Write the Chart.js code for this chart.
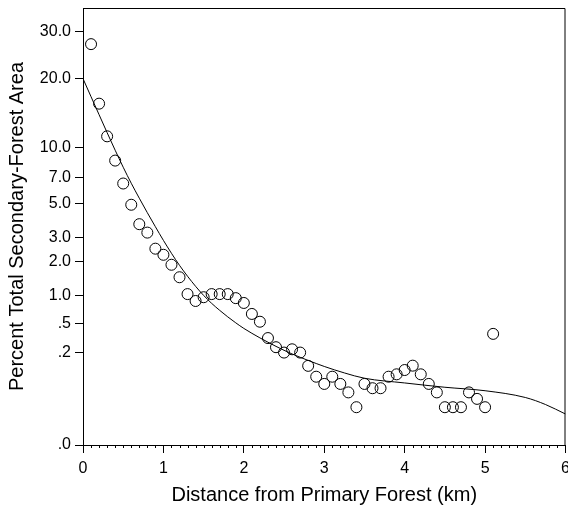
<!DOCTYPE html>
<html>
<head>
<meta charset="utf-8">
<script src="https://cdn.jsdelivr.net/npm/chart.js@4"></script>
<style>
    html, body { margin: 0; padding: 0; background: #fff; overflow: hidden; }
    #wrap { width: 568px; height: 507px; overflow: hidden; }
</style>
</head>
<body>
<div id="wrap"><canvas id="myChart" width="572" height="507"></canvas></div>
<script>
// observed points (km, percent)
const distanceKm = [0.1, 0.2, 0.3, 0.4, 0.5, 0.6, 0.7, 0.8, 0.9, 1.0,
    1.1, 1.2, 1.3, 1.4, 1.5, 1.6, 1.7, 1.8, 1.9, 2.0,
    2.1, 2.2, 2.3, 2.4, 2.5, 2.6, 2.7, 2.8, 2.9, 3.0,
    3.1, 3.2, 3.3, 3.4, 3.5, 3.6, 3.7, 3.8, 3.9, 4.0,
    4.1, 4.2, 4.3, 4.4, 4.5, 4.6, 4.7, 4.8, 4.9, 5.0, 5.1];
const percentArea = [27, 15.8, 11.3, 8.6, 6.5, 4.9, 3.7, 3.25, 2.5, 2.25,
    1.88, 1.48, 1.04, 0.89, 0.97, 1.04, 1.04, 1.04, 0.95, 0.85,
    0.65, 0.53, 0.33, 0.245, 0.203, 0.228, 0.203, 0.121, 0.074, 0.051,
    0.074, 0.051, 0.031, 0.0103, 0.051, 0.040, 0.040, 0.074, 0.083, 0.101,
    0.122, 0.083, 0.051, 0.031, 0.0103, 0.0103, 0.0103, 0.031, 0.020, 0.0103, 0.375];

// fitted curve
const curveKm = [0, 0.1, 0.2, 0.3, 0.4, 0.5, 0.6, 0.7, 0.8, 0.9, 1.0, 1.1, 1.2, 1.3, 1.4, 1.5,
    1.6, 1.7, 1.8, 1.9, 2.0, 2.2, 2.4, 2.6, 2.8, 3.0, 3.25, 3.5, 4.0, 4.5, 5.0, 5.5, 5.75, 6.0];
const curveArea = [20.0, 16.9, 14.16, 11.75, 9.69, 7.95, 6.52, 5.36, 4.38, 3.56, 2.87, 2.31, 1.86, 1.51, 1.23, 1.01,
    0.842, 0.711, 0.603, 0.514, 0.440, 0.332, 0.252, 0.193, 0.151, 0.118, 0.0886, 0.0686, 0.0538, 0.0423, 0.0344, 0.0221, 0.0130, 0.0053];

const yTickValues = [0, 0.2, 0.5, 1, 2, 3, 5, 7, 10, 20, 30];
const yTickLabels = ['.0', '.2', '.5', '1.0', '2.0', '3.0', '5.0', '7.0', '10.0', '20.0', '30.0'];
const xTickLabels = ['0', '1', '2', '3', '4', '5', '6'];

const EXP = 0.3;

// power scale: y^0.3
class PowerScale extends Chart.LinearScale {
    getPixelForValue(value) {
        if (value === null || value === undefined || isNaN(value)) return NaN;
        const a = Math.pow(Math.max(this.min, 0), EXP);
        const b = Math.pow(this.max, EXP);
        const p = Math.pow(Math.max(value, 0), EXP);
        return this.getPixelForDecimal((p - a) / (b - a));
    }
    getValueForPixel(pixel) {
        const a = Math.pow(Math.max(this.min, 0), EXP);
        const b = Math.pow(this.max, EXP);
        const d = this.getDecimalForPixel(pixel);
        return Math.pow(a + d * (b - a), 1 / EXP);
    }
}
PowerScale.id = 'power';
PowerScale.defaults = Chart.LinearScale.defaults;
Chart.register(PowerScale);

const FONT = "'Liberation Sans', Arial, sans-serif";

// box around plot + small minor ticks on x axis
const framePlugin = {
    id: 'frame',
    afterDraw(chart) {
        const ctx = chart.ctx;
        const a = chart.chartArea;
        const xs = chart.scales.x;
        ctx.save();
        ctx.strokeStyle = '#000';
        ctx.lineWidth = 1;
        ctx.beginPath();
        ctx.moveTo(a.left, a.top + 0.5);
        ctx.lineTo(a.right - 0.5, a.top + 0.5);
        ctx.lineTo(a.right - 0.5, a.bottom);
        ctx.stroke();
        ctx.beginPath();
        for (let i = 1; i < 60; i++) {
            if (i % 10 === 0) continue;
            const px = Math.round(xs.getPixelForValue(i / 10)) + 0.5;
            ctx.moveTo(px, a.bottom);
            ctx.lineTo(px, a.bottom + 3);
        }
        ctx.stroke();
        ctx.restore();
    }
};

const ctx = document.getElementById('myChart').getContext('2d');

new Chart(ctx, {
    type: 'scatter',
    data: {
        datasets: [{
            label: 'Fit',
            type: 'line',
            data: curveKm.map((x, i) => ({ x: x, y: curveArea[i] })),
            borderColor: '#000',
            borderWidth: 1,
            pointRadius: 0,
            pointHoverRadius: 0,
            fill: false,
            cubicInterpolationMode: 'monotone'
        }, {
            label: 'Observed',
            data: distanceKm.map((x, i) => ({ x: x, y: percentArea[i] })),
            pointRadius: 5.5,
            pointBorderWidth: 1,
            pointBorderColor: '#000',
            pointBackgroundColor: 'rgba(0,0,0,0)',
            borderColor: '#000',
            backgroundColor: 'rgba(0,0,0,0)'
        }]
    },
    options: {
        responsive: false,
        animation: false,
        layout: { padding: { top: 8, right: 0, left: 0, bottom: 0 } },
        plugins: {
            legend: { display: false },
            tooltip: { enabled: false }
        },
        scales: {
            x: {
                type: 'linear',
                min: 0,
                max: 6,
                ticks: {
                    stepSize: 1,
                    color: '#000',
                    padding: 6,
                    maxRotation: 0,
                    font: { family: FONT, size: 16 },
                    callback: (v) => xTickLabels[v]
                },
                grid: { drawOnChartArea: false, drawTicks: true, tickLength: 8, color: '#000' },
                border: { display: true, color: '#000', width: 1 },
                title: {
                    display: true,
                    text: 'Distance from Primary Forest (km)',
                    color: '#000',
                    font: { family: FONT, size: 20 },
                    padding: { top: 4, bottom: 0 }
                },
                afterFit: (s) => { s.height = 62; s.paddingLeft = 0; s.paddingRight = 0; }
            },
            y: {
                type: 'power',
                min: 0,
                max: 36,
                afterBuildTicks: (s) => { s.ticks = yTickValues.map(v => ({ value: v })); },
                ticks: {
                    color: '#000',
                    padding: 4,
                    font: { family: FONT, size: 16 },
                    callback: (v) => yTickLabels[yTickValues.indexOf(v)]
                },
                grid: { drawOnChartArea: false, drawTicks: true, tickLength: 8, color: '#000' },
                border: { display: true, color: '#000', width: 1 },
                title: {
                    display: true,
                    text: 'Percent Total Secondary-Forest Area',
                    color: '#000',
                    font: { family: FONT, size: 20 },
                    padding: { top: 5, bottom: 0 }
                },
                afterFit: (s) => { s.width = 83; s.paddingTop = 0; s.paddingBottom = 0; }
            }
        }
    },
    plugins: [framePlugin]
});
</script>
</body>
</html>
